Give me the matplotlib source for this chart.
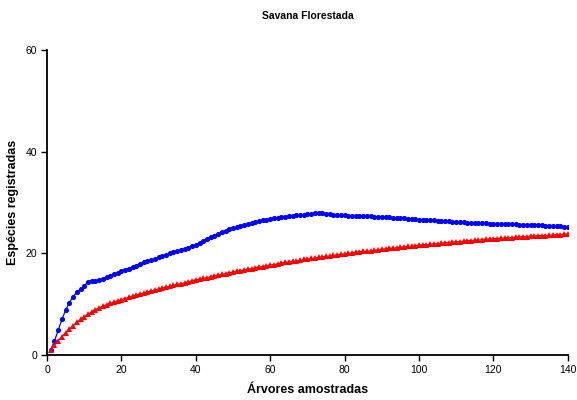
import matplotlib
matplotlib.use('Agg')
import matplotlib.pyplot as plt

plt.rcParams['font.family'] = ['Liberation Sans', 'DejaVu Sans']

arvores = list(range(1, 141))

especies_obs = [
	1.0, 2.75, 4.9, 7.0, 8.8, 10.3, 11.5, 12.3, 13.0, 13.6,
	14.4, 14.6, 14.6, 14.8, 15.0, 15.3, 15.6, 15.9, 16.2, 16.5,
	16.8, 17.0, 17.3, 17.6, 17.9, 18.2, 18.4, 18.6, 18.9, 19.2,
	19.4, 19.7, 20.0, 20.2, 20.4, 20.7, 20.9, 21.1, 21.4, 21.7,
	22.1, 22.5, 22.8, 23.2, 23.5, 23.8, 24.1, 24.4, 24.7, 25.0,
	25.2, 25.4, 25.6, 25.8, 26.0, 26.2, 26.3, 26.5, 26.6, 26.8,
	26.9, 27.0, 27.1, 27.2, 27.3, 27.4, 27.5, 27.6, 27.6, 27.7,
	27.8, 27.9, 28.0, 27.9, 27.8, 27.7, 27.6, 27.6, 27.5, 27.5,
	27.4, 27.4, 27.4, 27.3, 27.3, 27.3, 27.3, 27.2, 27.2, 27.2,
	27.1, 27.1, 27.0, 27.0, 26.9, 26.9, 26.8, 26.8, 26.7, 26.6,
	26.6, 26.6, 26.5, 26.5, 26.4, 26.4, 26.3, 26.3, 26.2, 26.1,
	26.1, 26.1, 26.0, 26.0, 26.0, 25.9, 25.9, 25.9, 25.8, 25.8,
	25.8, 25.8, 25.7, 25.7, 25.7, 25.7, 25.6, 25.6, 25.6, 25.6,
	25.5, 25.5, 25.5, 25.4, 25.4, 25.3, 25.3, 25.3, 25.2, 25.2,
]

especies_rar = [
	1.0, 1.9, 2.8, 3.6, 4.4, 5.1, 5.8, 6.4, 7.0, 7.5,
	8.0, 8.5, 8.9, 9.3, 9.6, 9.9, 10.2, 10.4, 10.7, 10.9,
	11.1, 11.4, 11.6, 11.8, 12.0, 12.2, 12.4, 12.6, 12.8, 13.0,
	13.2, 13.4, 13.5, 13.7, 13.9, 14.0, 14.2, 14.4, 14.6, 14.8,
	14.9, 15.1, 15.2, 15.4, 15.6, 15.7, 15.9, 16.0, 16.2, 16.3,
	16.5, 16.6, 16.7, 16.9, 17.0, 17.2, 17.3, 17.4, 17.6, 17.7,
	17.8, 17.9, 18.1, 18.2, 18.3, 18.4, 18.5, 18.6, 18.8, 18.9,
	19.0, 19.1, 19.2, 19.3, 19.4, 19.5, 19.6, 19.7, 19.8, 19.9,
	20.0, 20.1, 20.2, 20.3, 20.4, 20.4, 20.5, 20.6, 20.7, 20.8,
	20.9, 21.0, 21.0, 21.1, 21.2, 21.3, 21.4, 21.4, 21.5, 21.6,
	21.7, 21.7, 21.8, 21.9, 21.9, 22.0, 22.1, 22.1, 22.2, 22.3,
	22.3, 22.4, 22.5, 22.5, 22.6, 22.6, 22.7, 22.8, 22.8, 22.9,
	22.9, 23.0, 23.0, 23.1, 23.1, 23.2, 23.2, 23.3, 23.3, 23.4,
	23.4, 23.5, 23.5, 23.5, 23.6, 23.6, 23.7, 23.7, 23.8, 23.8,
]

fig = plt.figure(figsize=(5.77, 4.0), dpi=100)
ax = fig.add_axes([0.0815, 0.1125, 0.9025, 0.7625])

ax.plot(arvores, especies_obs, color='#0000FF', marker='o', markersize=3.7, linewidth=0.9, markeredgewidth=0)
ax.plot(arvores, especies_rar, color='#FF0000', marker='^', markersize=4.3, linewidth=0.9, markeredgewidth=0)

ax.set_xlim(0, 140)
ax.set_ylim(0, 60)
ax.set_xticks(range(0, 141, 20))
ax.set_yticks(range(0, 61, 20))
ax.spines['top'].set_visible(False)
ax.spines['right'].set_visible(False)
ax.spines['left'].set_linewidth(1.3)
ax.spines['bottom'].set_linewidth(1.3)
ax.tick_params(direction='out', length=4, width=1, labelsize=7.5, pad=3)

ax.set_title('Savana Florestada', fontsize=7.5, fontweight='bold', pad=22)
ax.set_xlabel('Árvores amostradas', fontsize=9, fontweight='bold', labelpad=7)
ax.set_ylabel('Espécies registradas', fontsize=9, fontweight='bold', labelpad=5)

fig.savefig('out.png', dpi=100)
